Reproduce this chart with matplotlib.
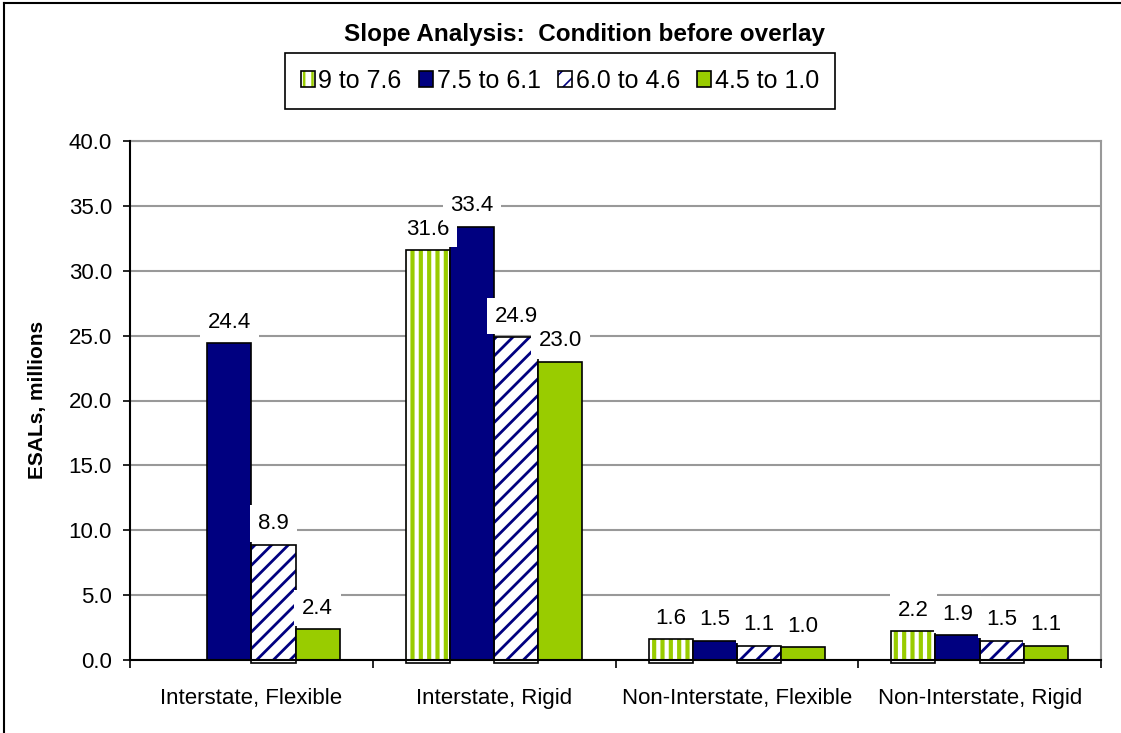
import numpy as np
import matplotlib.pyplot as plt
from matplotlib.patches import Patch, Rectangle
from matplotlib.lines import Line2D

plt.rcParams['font.family'] = ['Liberation Sans', 'DejaVu Sans']

# Data (ESALs, millions)
categories = ["Interstate, Flexible", "Interstate, Rigid",
              "Non-Interstate, Flexible", "Non-Interstate, Rigid"]
series_names = ["9 to 7.6", "7.5 to 6.1", "6.0 to 4.6", "4.5 to 1.0"]
s_9_76 = [np.nan, 31.6, 1.6, 2.2]
s_75_61 = [24.4, 33.4, 1.5, 1.9]
s_60_46 = [8.9, 24.9, 1.1, 1.5]
s_45_10 = [2.4, 23.0, 1.0, 1.1]
y_ticks = [0, 5, 10, 15, 20, 25, 30, 35, 40]

navy = '#000080'
green = '#99CC00'

# face colour, hatch colour, hatch, hatch linewidth
styles = [
    ('white', green, '||', 3.0),
    (navy, None, None, 0),
    ('white', navy, '//', 2.0),
    (green, None, None, 0),
]
all_series = [s_9_76, s_75_61, s_60_46, s_45_10]

fig = plt.figure(figsize=(11.21, 7.33), dpi=100)
ax = fig.add_axes([130 / 1121, 73 / 733, 971 / 1121, 519 / 733])

x = np.arange(len(categories))
width = 0.182
offsets = (np.arange(4) - 1.5) * width


def hatched_bar(xpos, vals, face, hcolor, hatch, hlw):
    with plt.rc_context({'hatch.linewidth': hlw}):
        bars = ax.bar(xpos, vals, width, color=face, edgecolor=hcolor,
                      hatch=hatch, linewidth=0, zorder=2)
    for b in bars:
        if hasattr(b, 'set_hatch_linewidth'):
            b.set_hatch_linewidth(hlw)
    # pattern-filled bars in the original have an outline that dips just below zero
    ax.bar(xpos, vals + 0.25, width, bottom=-0.25, fill=False, edgecolor='black',
           linewidth=1.2, zorder=3, clip_on=False)


for vals, (face, hc, hatch, hlw), off in zip(all_series, styles, offsets):
    vals = np.array(vals, dtype=float)
    if hatch:
        hatched_bar(x + off, vals, face, hc, hatch, hlw)
    else:
        ax.bar(x + off, vals, width, color=face, edgecolor='black', linewidth=1.2, zorder=3)

# data labels with white boxes (drawn after all bars)
for vals, off in zip(all_series, offsets):
    for xi, v in zip(x, vals):
        if np.isnan(v):
            continue
        ax.annotate(f"{v:.1f}", (xi + off, v), xytext=(0, 15), textcoords='offset points',
                    ha='center', va='center', fontsize=16,
                    bbox=dict(boxstyle='square,pad=0.35', fc='white', ec='none'),
                    zorder=6, annotation_clip=False)

# axes
ax.set_xlim(-0.5, 3.5)
ax.set_ylim(0, 40)
ax.set_yticks(y_ticks)
ax.set_yticklabels([f"{t:.1f}" for t in y_ticks], fontsize=16)
ax.tick_params(axis='y', length=5, width=1.2, pad=8)
ax.set_xticks(x)
ax.set_xticklabels(categories, fontsize=16)
ax.set_xticks([-0.5, 0.5, 1.5, 2.5, 3.5], minor=True)
ax.tick_params(axis='x', which='major', length=0, pad=20)
ax.tick_params(axis='x', which='minor', length=6, width=1.2)
ax.grid(axis='y', color='#999999', linewidth=1.5)
ax.set_axisbelow(True)

for s in ['left', 'bottom']:
    ax.spines[s].set_color('black')
    ax.spines[s].set_linewidth(1.5)
    ax.spines[s].set_zorder(4)
for s in ['top', 'right']:
    ax.spines[s].set_color('#999999')
    ax.spines[s].set_linewidth(1.5)

# title and y label
fig.text(585 / 1121, 1 - 34 / 733, "Slope Analysis:  Condition before overlay",
         fontsize=17.5, fontweight='bold', ha='center', va='center')
fig.text(38 / 1121, 1 - 400 / 733, "ESALs, millions", rotation=90,
         fontsize=15, fontweight='bold', ha='center', va='center')


# legend boxes: coloured hatch with a black outline
class BoxHandler:
    def __init__(self, face, hcolor, hatch, hlw):
        self.face, self.hcolor, self.hatch, self.hlw = face, hcolor, hatch, hlw

    def legend_artist(self, legend, orig_handle, fontsize, handlebox):
        x0, y0 = -handlebox.xdescent, -handlebox.ydescent
        w, h = handlebox.width, handlebox.height
        tr = handlebox.get_transform()
        if self.hatch:
            with plt.rc_context({'hatch.linewidth': self.hlw * 0.6}):
                r1 = Rectangle((x0, y0), w, h, facecolor=self.face, edgecolor=self.hcolor,
                               hatch=self.hatch, linewidth=0, transform=tr)
            if hasattr(r1, 'set_hatch_linewidth'):
                r1.set_hatch_linewidth(self.hlw * 0.6)
        else:
            r1 = Rectangle((x0, y0), w, h, facecolor=self.face, linewidth=0, transform=tr)
        r2 = Rectangle((x0, y0), w, h, fill=False, edgecolor='black', linewidth=1.2, transform=tr)
        handlebox.add_artist(r1)
        handlebox.add_artist(r2)
        return r1


handles = []
hmap = {}
for face, hc, hatch, hlw in styles:
    p = Patch(facecolor=face)
    handles.append(p)
    hmap[p] = BoxHandler(face, hc, hatch, hlw)

leg = fig.legend(handles, series_names, loc='center',
                 bbox_to_anchor=(560 / 1121, 1 - 81 / 733), ncol=4,
                 handler_map=hmap,
                 fontsize=18, frameon=True, fancybox=False, framealpha=1,
                 edgecolor='black', handlelength=0.55, handleheight=0.6,
                 handletextpad=0.15, columnspacing=0.7, borderpad=0.65)
leg.get_frame().set_linewidth(1.2)

# outer chart border (left and top edges visible)
fig.add_artist(Line2D([4 / 1121, 4 / 1121], [0, 1 - 3 / 733], color='black',
                      linewidth=1.5, transform=fig.transFigure))
fig.add_artist(Line2D([4 / 1121, 1], [1 - 3 / 733, 1 - 3 / 733], color='black',
                      linewidth=1.5, transform=fig.transFigure))

fig.savefig('out.png', dpi=100)
